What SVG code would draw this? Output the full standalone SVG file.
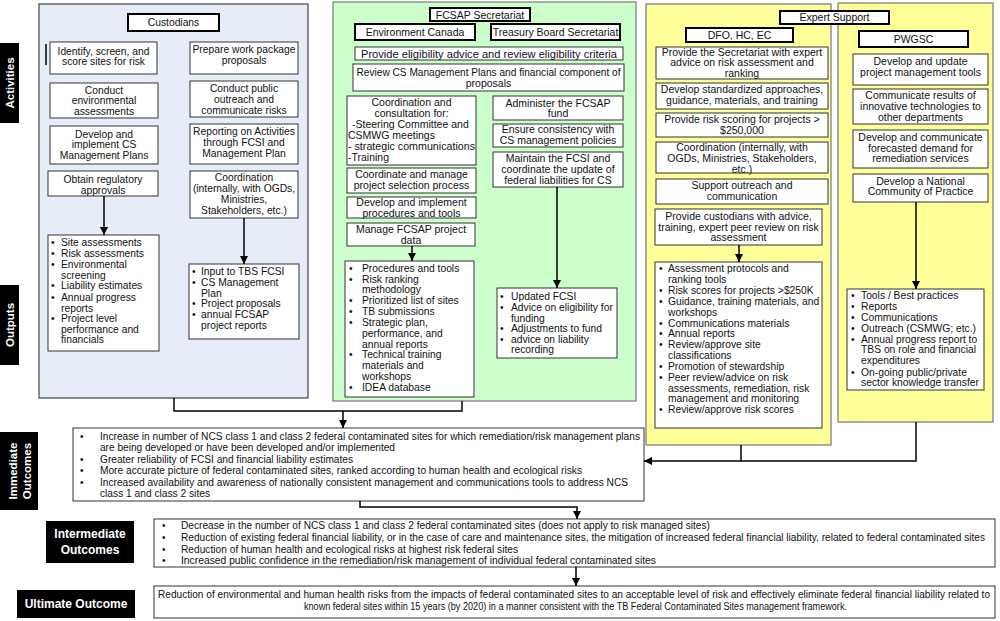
<svg xmlns="http://www.w3.org/2000/svg" width="1000" height="621" viewBox="0 0 1000 621">
<style>
.bg{fill:#fff}
.pc{fill:#E6ECF8;stroke:#444;stroke-width:1.2}
.pf{fill:#CCFFCC;stroke:#777;stroke-width:1.2}
.pe{fill:#FFFF99;stroke:#777;stroke-width:1.2}
.box{fill:#fff;stroke:#333;stroke-width:1}
.ttl{fill:#fff;stroke:#000;stroke-width:2}
.lab{fill:#000}
.t{font-family:"Liberation Sans",Arial,sans-serif;font-size:10.3px;fill:#111}
.tb{font-family:"Liberation Sans",Arial,sans-serif;font-size:10.5px;fill:#111}
.to{font-family:"Liberation Sans",Arial,sans-serif;font-size:10px;fill:#111}
.c{text-anchor:middle}
.lt{font-family:"Liberation Sans",Arial,sans-serif;font-weight:bold;fill:#fff;font-size:11.5px}
.conn{stroke:#000;stroke-width:1.5;fill:none}
</style>
<defs>
<marker id="ah" viewBox="0 0 10 10" refX="10" refY="5" markerWidth="8" markerHeight="8" markerUnits="userSpaceOnUse" orient="auto"><path d="M0,0 L10,5 L0,10 z" fill="#000"/></marker>
</defs>
<rect class="bg" x="0" y="0" width="1000" height="621"/>

<g id="labels">
<g id="lab-activities"><rect class="lab" x="0" y="43" width="19" height="80"/><text class="lt c" transform="translate(14,83) rotate(-90)">Activities</text></g>
<g id="lab-outputs"><rect class="lab" x="0" y="285" width="19" height="80"/><text class="lt c" transform="translate(14,325) rotate(-90)">Outputs</text></g>
<g id="lab-immediate"><rect class="lab" x="0" y="432" width="38" height="78"/><text class="lt c" transform="translate(17,471) rotate(-90)">Immediate</text><text class="lt c" transform="translate(31,471) rotate(-90)">Outcomes</text></g>
<g id="lab-intermediate"><rect class="lab" x="46" y="521" width="88" height="42"/><text class="lt c" x="90" y="538" style="font-size:12px">Intermediate</text><text class="lt c" x="90" y="554" style="font-size:12px">Outcomes</text></g>
<g id="lab-ultimate"><rect class="lab" x="17" y="590" width="118" height="28"/><text class="lt c" x="76" y="608" style="font-size:12px">Ultimate Outcome</text></g>
</g>

<g id="custodians">
<rect class="pc" x="39" y="4" width="269" height="394"/>
<g id="cust-title"><rect class="ttl" x="128" y="14" width="91" height="17"/><text class="t c" x="173.5" y="26">Custodians</text></g>
<line x1="46" y1="44" x2="46" y2="65" stroke="#000" stroke-width="1.5"/>
<g id="c-identify"><rect class="box" x="50" y="42" width="107" height="32"/><text class="t c" x="103.5" y="54.5">Identify, screen, and</text><text class="t c" x="103.5" y="65.2">score sites for risk</text></g>
<g id="c-conduct-env"><rect class="box" x="50" y="83" width="108" height="35"/><text class="t c" x="104" y="93.5">Conduct</text><text class="t c" x="104" y="104.2">environmental</text><text class="t c" x="104" y="115">assessments</text></g>
<g id="c-develop"><rect class="box" x="50" y="126" width="108" height="38"/><text class="t c" x="104" y="137.5">Develop and</text><text class="t c" x="104" y="148.2">implement CS</text><text class="t c" x="104" y="158.7">Management Plans</text></g>
<g id="c-obtain"><rect class="box" x="48" y="171" width="110" height="25"/><text class="t c" x="103" y="183.3">Obtain regulatory</text><text class="t c" x="103" y="194">approvals</text></g>
<g id="c-prepare"><rect class="box" x="190" y="42" width="108" height="32"/><text class="t c" x="244" y="52.8">Prepare work package</text><text class="t c" x="244" y="63.5">proposals</text></g>
<g id="c-outreach"><rect class="box" x="190" y="81" width="108" height="36"/><text class="t c" x="244" y="92.3">Conduct public</text><text class="t c" x="244" y="102.8">outreach and</text><text class="t c" x="244" y="113.5">communicate risks</text></g>
<g id="c-reporting"><rect class="box" x="190" y="124" width="108" height="40"/><text class="t c" x="244" y="135">Reporting on Activities</text><text class="t c" x="244" y="146.3">through FCSI and</text><text class="t c" x="244" y="157">Management Plan</text></g>
<g id="c-coord"><rect class="box" x="190" y="171" width="108" height="47"/><text class="t c" x="244" y="181.3">Coordination</text><text class="t c" x="244" y="192">(internally, with OGDs,</text><text class="t c" x="244" y="203">Ministries,</text><text class="t c" x="244" y="214">Stakeholders, etc.)</text></g>
<g id="c-out-left"><rect class="box" x="48" y="235" width="111" height="116"/>
<text class="t"><tspan x="51" y="246">•</tspan><tspan x="61" y="246">Site assessments</tspan><tspan x="51" y="256.7">•</tspan><tspan x="61" y="256.7">Risk assessments</tspan><tspan x="51" y="267.6">•</tspan><tspan x="61" y="267.6">Environmental</tspan><tspan x="61" y="278.6">screening</tspan><tspan x="51" y="289.3">•</tspan><tspan x="61" y="289.3">Liability estimates</tspan><tspan x="51" y="300.6">•</tspan><tspan x="61" y="300.6">Annual progress</tspan><tspan x="61" y="311.6">reports</tspan><tspan x="51" y="322.3">•</tspan><tspan x="61" y="322.3">Project level</tspan><tspan x="61" y="332.6">performance and</tspan><tspan x="61" y="343.3">financials</tspan></text></g>
<g id="c-out-right"><rect class="box" x="189" y="264" width="110" height="75"/>
<text class="t"><tspan x="192" y="275">•</tspan><tspan x="201" y="275">Input to TBS FCSI</tspan><tspan x="192" y="285.6">•</tspan><tspan x="201" y="285.6">CS Management</tspan><tspan x="201" y="296.6">Plan</tspan><tspan x="192" y="307.3">•</tspan><tspan x="201" y="307.3">Project proposals</tspan><tspan x="192" y="318.3">•</tspan><tspan x="201" y="318.3">annual FCSAP</tspan><tspan x="201" y="329.3">project reports</tspan></text></g>
</g>

<g id="fcsap">
<rect class="pf" x="333" y="2" width="303" height="399"/>
<g id="f-title"><rect class="ttl" x="430" y="8" width="100" height="13"/><text class="tb c" x="480" y="18.5">FCSAP Secretariat</text></g>
<g id="f-ec"><rect class="ttl" x="355" y="24" width="120" height="16"/><text class="tb c" x="415" y="35.5">Environment Canada</text></g>
<g id="f-tbs"><rect class="ttl" x="491" y="24" width="129" height="16"/><text class="tb c" x="555.5" y="35.5">Treasury Board Secretariat</text></g>
<g id="f-elig"><rect class="box" x="355" y="47" width="268" height="13"/><text class="tb c" x="489" y="57.5" textLength="256" lengthAdjust="spacingAndGlyphs">Provide eligibility advice and review eligibility criteria</text></g>
<g id="f-review"><rect class="box" x="353" y="64" width="271" height="27"/><text class="tb c" x="488.5" y="76.3" textLength="264" lengthAdjust="spacingAndGlyphs">Review CS Management Plans and financial component of</text><text class="tb c" x="488.5" y="87.3">proposals</text></g>
<g id="f-coord"><rect class="box" x="347" y="96" width="129" height="69"/><text class="tb c" x="411.5" y="106.3">Coordination and</text><text class="tb c" x="411.5" y="117.3">consultation for:</text><text class="tb" x="352" y="128.3">-Steering Committee and</text><text class="tb" x="348" y="139.3">CSMWG meetings</text><text class="tb" x="348" y="150" textLength="127" lengthAdjust="spacingAndGlyphs">- strategic communications</text><text class="tb" x="348" y="161">-Training</text></g>
<g id="f-select"><rect class="box" x="347" y="168" width="129" height="25"/><text class="tb c" x="411.5" y="177.6">Coordinate and manage</text><text class="tb c" x="411.5" y="189">project selection process</text></g>
<g id="f-procs"><rect class="box" x="347" y="197" width="129" height="21"/><text class="tb c" x="411.5" y="206.3">Develop and implement</text><text class="tb c" x="411.5" y="216.6">procedures and tools</text></g>
<g id="f-data"><rect class="box" x="347" y="223" width="128" height="23"/><text class="tb c" x="411" y="233.3">Manage FCSAP project</text><text class="tb c" x="411" y="244">data</text></g>
<g id="f-admin"><rect class="box" x="493" y="96" width="130" height="24"/><text class="tb c" x="558" y="106.6">Administer the FCSAP</text><text class="tb c" x="558" y="117.3">fund</text></g>
<g id="f-ensure"><rect class="box" x="493" y="124" width="130" height="23"/><text class="tb c" x="558" y="133.3">Ensure consistency with</text><text class="tb c" x="558" y="144.3">CS management policies</text></g>
<g id="f-maintain"><rect class="box" x="493" y="152" width="130" height="35"/><text class="tb c" x="558" y="162.3">Maintain the FCSI and</text><text class="tb c" x="558" y="173.3">coordinate the update of</text><text class="tb c" x="558" y="184.3">federal liabilities for CS</text></g>
<g id="f-out-left"><rect class="box" x="345" y="261" width="129" height="136"/>
<text class="t"><tspan x="349" y="271.6">•</tspan><tspan x="362" y="271.6">Procedures and tools</tspan><tspan x="349" y="282.6">•</tspan><tspan x="362" y="282.6">Risk ranking</tspan><tspan x="362" y="293.3">methodology</tspan><tspan x="349" y="304">•</tspan><tspan x="362" y="304">Prioritized list of sites</tspan><tspan x="349" y="315">•</tspan><tspan x="362" y="315">TB submissions</tspan><tspan x="349" y="326">•</tspan><tspan x="362" y="326">Strategic plan,</tspan><tspan x="362" y="336.6">performance, and</tspan><tspan x="362" y="347.6">annual reports</tspan><tspan x="349" y="358.3">•</tspan><tspan x="362" y="358.3">Technical training</tspan><tspan x="362" y="369">materials and</tspan><tspan x="362" y="380">workshops</tspan><tspan x="349" y="390.6">•</tspan><tspan x="362" y="390.6">IDEA database</tspan></text></g>
<g id="f-out-right"><rect class="box" x="497" y="288" width="120" height="70"/>
<text class="t"><tspan x="500" y="300">•</tspan><tspan x="511" y="300">Updated FCSI</tspan><tspan x="500" y="310.6">•</tspan><tspan x="511" y="310.6">Advice on eligibility for</tspan><tspan x="511" y="321.6">funding</tspan><tspan x="500" y="332.3">•</tspan><tspan x="511" y="332.3">Adjustments to fund</tspan><tspan x="500" y="342.6">•</tspan><tspan x="511" y="342.6">advice on liability</tspan><tspan x="511" y="353.3">recording</tspan></text></g>
</g>

<g id="expert">
<rect class="pe" x="646" y="4" width="185" height="441"/>
<rect class="pe" x="838" y="3" width="155" height="419"/>
<g id="e-title"><rect class="ttl" x="780" y="11" width="109" height="13"/><text class="tb c" x="834.5" y="21.3">Expert Support</text></g>
<g id="e-dfo"><rect class="ttl" x="686" y="28" width="107" height="14"/><text class="tb c" x="739.5" y="39">DFO, HC, EC</text></g>
<g id="e-pwgsc"><rect class="ttl" x="859" y="31" width="109" height="16"/><text class="tb c" x="913.5" y="42.5">PWGSC</text></g>
<g id="e-advice"><rect class="box" x="656" y="47" width="172" height="32"/><text class="tb c" x="742" y="55.6">Provide the Secretariat with expert</text><text class="tb c" x="742" y="66.3">advice on risk assessment and</text><text class="tb c" x="742" y="77">ranking</text></g>
<g id="e-standard"><rect class="box" x="656" y="83" width="172" height="26"/><text class="tb c" x="742" y="93.3">Develop standardized approaches,</text><text class="tb c" x="742" y="104.3">guidance, materials, and training</text></g>
<g id="e-scoring"><rect class="box" x="656" y="113" width="172" height="24"/><text class="tb c" x="742" y="123.3">Provide risk scoring for projects &gt;</text><text class="tb c" x="742" y="134">$250,000</text></g>
<g id="e-coord"><rect class="box" x="656" y="142" width="172" height="31"/><text class="tb c" x="742" y="151.3">Coordination (internally, with</text><text class="tb c" x="742" y="162.3">OGDs, Ministries, Stakeholders,</text><text class="tb c" x="742" y="172.7">etc.)</text></g>
<g id="e-outreach"><rect class="box" x="656" y="179" width="172" height="25"/><text class="tb c" x="742" y="189.3">Support outreach and</text><text class="tb c" x="742" y="200.3">communication</text></g>
<g id="e-custadv"><rect class="box" x="655" y="209" width="167" height="36"/><text class="tb c" x="738.5" y="219.8">Provide custodians with advice,</text><text class="tb c" x="738.5" y="230.6">training, expert peer review on risk</text><text class="tb c" x="738.5" y="241.3">assessment</text></g>
<g id="e-pmtools"><rect class="box" x="853" y="54" width="135" height="31"/><text class="tb c" x="920.5" y="65.3">Develop and update</text><text class="tb c" x="920.5" y="76">project management tools</text></g>
<g id="e-innov"><rect class="box" x="853" y="89" width="135" height="35"/><text class="tb c" x="920.5" y="99.3">Communicate results of</text><text class="tb c" x="920.5" y="110.3">innovative technologies to</text><text class="tb c" x="920.5" y="121.3">other departments</text></g>
<g id="e-demand"><rect class="box" x="853" y="130" width="135" height="38"/><text class="tb c" x="920.5" y="141">Develop and communicate</text><text class="tb c" x="920.5" y="151.6">forecasted demand for</text><text class="tb c" x="920.5" y="162">remediation services</text></g>
<g id="e-ncp"><rect class="box" x="853" y="174" width="135" height="28"/><text class="tb c" x="920.5" y="185">Develop a National</text><text class="tb c" x="920.5" y="195.3">Community of Practice</text></g>
<g id="e-out-left"><rect class="box" x="655" y="262" width="167" height="166"/>
<text class="t"><tspan x="659" y="272.3">•</tspan><tspan x="668" y="272.3">Assessment protocols and</tspan><tspan x="668" y="283.3">ranking tools</tspan><tspan x="659" y="294">•</tspan><tspan x="668" y="294">Risk scores for projects &gt;$250K</tspan><tspan x="659" y="305">•</tspan><tspan x="668" y="305">Guidance, training materials, and</tspan><tspan x="668" y="316">workshops</tspan><tspan x="659" y="326.6">•</tspan><tspan x="668" y="326.6">Communications materials</tspan><tspan x="659" y="337.3">•</tspan><tspan x="668" y="337.3">Annual reports</tspan><tspan x="659" y="348.3">•</tspan><tspan x="668" y="348.3">Review/approve site</tspan><tspan x="668" y="359">classifications</tspan><tspan x="659" y="370">•</tspan><tspan x="668" y="370">Promotion of stewardship</tspan><tspan x="659" y="380.6">•</tspan><tspan x="668" y="380.6">Peer review/advice on risk</tspan><tspan x="668" y="391.6">assessments, remediation, risk</tspan><tspan x="668" y="402.3">management and monitoring</tspan><tspan x="659" y="413.3">•</tspan><tspan x="668" y="413.3">Review/approve risk scores</tspan></text></g>
<g id="e-out-right"><rect class="box" x="847" y="289" width="137" height="101"/>
<text class="t"><tspan x="851" y="299">•</tspan><tspan x="861" y="299">Tools / Best practices</tspan><tspan x="851" y="310">•</tspan><tspan x="861" y="310">Reports</tspan><tspan x="851" y="321">•</tspan><tspan x="861" y="321">Communications</tspan><tspan x="851" y="331.6">•</tspan><tspan x="861" y="331.6">Outreach (CSMWG; etc.)</tspan><tspan x="851" y="342.6">•</tspan><tspan x="861" y="342.6">Annual progress report to</tspan><tspan x="861" y="353.3">TBS on role and financial</tspan><tspan x="861" y="364.3">expenditures</tspan><tspan x="851" y="375.6">•</tspan><tspan x="861" y="375.6">On-going public/private</tspan><tspan x="861" y="386">sector knowledge transfer</tspan></text></g>
</g>

<g id="immediate">
<rect class="box" x="73" y="428" width="571" height="73"/>
<text class="to"><tspan x="80" y="440">•</tspan><tspan x="100" y="440" textLength="540" lengthAdjust="spacingAndGlyphs">Increase in number of NCS class 1 and class 2 federal contaminated sites for which remediation/risk management plans</tspan><tspan x="100" y="451" textLength="295" lengthAdjust="spacingAndGlyphs">are being developed or have been developed and/or implemented</tspan><tspan x="80" y="462.5">•</tspan><tspan x="100" y="462.5" textLength="253" lengthAdjust="spacingAndGlyphs">Greater reliability of FCSI and financial liability estimates</tspan><tspan x="80" y="474.2">•</tspan><tspan x="100" y="474.2" textLength="482" lengthAdjust="spacingAndGlyphs">More accurate picture of federal contaminated sites, ranked according to human health and ecological risks</tspan><tspan x="80" y="485.9">•</tspan><tspan x="100" y="485.9" textLength="528" lengthAdjust="spacingAndGlyphs">Increased availability and awareness of nationally consistent management and communications tools to address NCS</tspan><tspan x="100" y="496.6" textLength="110" lengthAdjust="spacingAndGlyphs">class 1 and class 2 sites</tspan></text>
</g>

<g id="intermediate">
<rect class="box" x="154" y="519" width="841" height="48"/>
<text class="to"><tspan x="162" y="528.5">•</tspan><tspan x="181" y="528.5" textLength="529" lengthAdjust="spacingAndGlyphs">Decrease in the number of NCS class 1 and class 2 federal contaminated sites (does not apply to risk managed sites)</tspan><tspan x="162" y="540.5">•</tspan><tspan x="181" y="540.5" textLength="804" lengthAdjust="spacingAndGlyphs">Reduction of existing federal financial liability, or in the case of care and maintenance sites, the mitigation of increased federal financial liability, related to federal contaminated sites</tspan><tspan x="162" y="552.5">•</tspan><tspan x="181" y="552.5" textLength="337" lengthAdjust="spacingAndGlyphs">Reduction of human health and ecological risks at highest risk federal sites</tspan><tspan x="162" y="564.3">•</tspan><tspan x="181" y="564.3" textLength="475" lengthAdjust="spacingAndGlyphs">Increased public confidence in the remediation/risk management of individual federal contaminated sites</tspan></text>
</g>

<g id="ultimate">
<rect class="box" x="154" y="586" width="841" height="32"/>
<text class="to"><tspan x="158" y="597.7" textLength="832" lengthAdjust="spacingAndGlyphs">Reduction of environmental and human health risks from the impacts of federal contaminated sites to an acceptable level of risk and effectively eliminate federal financial liability related to</tspan><tspan x="304" y="610.2" textLength="543" lengthAdjust="spacingAndGlyphs">known federal sites within 15 years (by 2020) in a manner consistent with the TB Federal Contaminated Sites management framework.</tspan></text>
</g>

<g id="connectors">
<path class="conn" d="M104,196 V235" marker-end="url(#ah)"/>
<path class="conn" d="M244,218 V264" marker-end="url(#ah)"/>
<path class="conn" d="M412,246 V261" marker-end="url(#ah)"/>
<path class="conn" d="M557,187 V288" marker-end="url(#ah)"/>
<path class="conn" d="M739,245 V262" marker-end="url(#ah)"/>
<path class="conn" d="M916,202 V289" marker-end="url(#ah)"/>
<path class="conn" d="M174,398 V411 H462 V401"/>
<path class="conn" d="M343,411 V428" marker-end="url(#ah)"/>
<path class="conn" d="M741,445 V461"/>
<path class="conn" d="M916,422 V461 H644" marker-end="url(#ah)"/>
<path class="conn" d="M360,501 V507 H577 V519" marker-end="url(#ah)"/>
<path class="conn" d="M576,567 V586" marker-end="url(#ah)"/>
</g>
</svg>
